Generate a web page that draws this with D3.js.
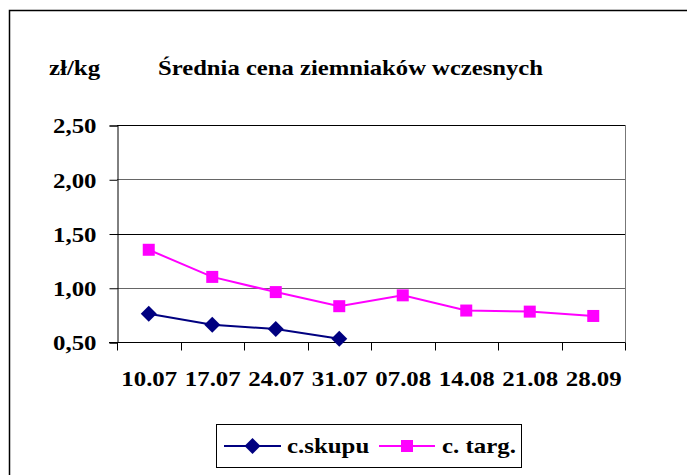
<!DOCTYPE html>
<html>
<head>
<meta charset="utf-8">
<script src="https://cdn.jsdelivr.net/npm/d3@7"></script>
</head>
<body style="margin:0; background:#fff">
<svg id="chart" width="687" height="475" font-family="Liberation Serif" font-weight="bold"></svg>
<script>
    // data
    var dates = ["10.07", "17.07", "24.07", "31.07", "07.08", "14.08", "21.08", "28.09"];
    var skupu = [0.76, 0.66, 0.62, 0.53];
    var targ = [1.35, 1.10, 0.96, 0.83, 0.93, 0.79, 0.78, 0.74];
    var yTicks = [0.5, 1.0, 1.5, 2.0, 2.5];

    var FONT = 'Liberation Serif';
    var STRETCH = 1.13;

    var svg = d3.select('#chart');

    // outer frame
    svg.append('rect')
        .attr('x', 9.5).attr('y', 10.5)
        .attr('width', 700).attr('height', 500)
        .attr('fill', '#fff')
        .attr('stroke', '#000')
        .attr('stroke-width', 1.5);

    var plot = { left: 117, right: 625, top: 125, bottom: 342 };

    var x = d3.scaleBand()
        .domain(dates)
        .range([plot.left, plot.right]);

    var y = d3.scaleLinear()
        .domain([0.5, 2.5])
        .range([plot.bottom, plot.top]);

    var fmt = function(d) {
        return d3.format('.2f')(d).replace('.', ',');
    };

    // gridlines
    svg.append('g')
        .selectAll('line')
        .data(yTicks)
        .enter().append('line')
        .attr('x1', plot.left).attr('x2', plot.right)
        .attr('y1', function(d) { return Math.round(y(d)) + 0.5; })
        .attr('y2', function(d) { return Math.round(y(d)) + 0.5; })
        .attr('stroke', function(d, i) { return i % 2 === 1 ? '#666' : '#000'; })
        .attr('stroke-width', 1);

    // right border of plot area
    svg.append('line')
        .attr('x1', plot.right + 0.5).attr('x2', plot.right + 0.5)
        .attr('y1', plot.top).attr('y2', plot.bottom + 8)
        .attr('stroke', '#777');

    // y axis
    var yAxis = svg.append('g')
        .attr('transform', 'translate(' + (plot.left + 0.5) + ',0.5)')
        .call(d3.axisLeft(y).tickValues(yTicks).tickFormat(fmt).tickSize(8).tickPadding(13));
    yAxis.attr('font-family', FONT).attr('font-size', 22);
    yAxis.select('.domain').attr('stroke', '#000');
    yAxis.selectAll('text')
        .attr('fill', '#000')
        .attr('dy', '0.34em');

    // x axis
    var xAxis = svg.append('g')
        .attr('transform', 'translate(0.5,' + (plot.bottom + 0.5) + ')')
        .call(d3.axisBottom(x).tickSize(0).tickPadding(0));
    xAxis.attr('font-family', FONT).attr('font-size', 22);
    xAxis.select('.domain').remove();
    xAxis.selectAll('text')
        .attr('fill', '#000')
        .attr('y', 43)
        .attr('dy', 0);

    var edges = dates.map(function(d) { return x(d); }).concat([plot.right]);
    xAxis.selectAll('.edge')
        .data(edges)
        .enter().append('line')
        .attr('class', 'edge')
        .attr('x1', function(d) { return Math.round(d); })
        .attr('x2', function(d) { return Math.round(d); })
        .attr('y1', 0).attr('y2', 8)
        .attr('stroke', '#000');
    svg.append('line')
        .attr('x1', plot.left - 8).attr('x2', plot.right)
        .attr('y1', plot.bottom + 0.5).attr('y2', plot.bottom + 0.5)
        .attr('stroke', '#000');

    // titles
    svg.append('text')
        .attr('class', 'stretch')
        .attr('x', 49).attr('y', 75)
        .attr('font-size', 22)
        .text('zł/kg');
    svg.append('text')
        .attr('x', 158).attr('y', 75)
        .attr('font-size', 22)
        .attr('textLength', 385)
        .attr('lengthAdjust', 'spacingAndGlyphs')
        .text('Średnia cena ziemniaków wczesnych');

    var cx = function(d, i) { return x(dates[i]) + x.bandwidth() / 2; };
    var line = d3.line()
        .x(function(d, i) { return cx(d, i); })
        .y(function(d) { return y(d); });

    // c. targ.
    svg.append('path')
        .datum(targ)
        .attr('d', line)
        .attr('fill', 'none')
        .attr('stroke', '#ff00ff')
        .attr('stroke-width', 2);
    svg.append('g')
        .selectAll('rect')
        .data(targ)
        .enter().append('rect')
        .attr('x', function(d, i) { return cx(d, i) - 6; })
        .attr('y', function(d) { return y(d) - 6; })
        .attr('width', 12).attr('height', 12)
        .attr('fill', '#ff00ff');

    // c.skupu
    svg.append('path')
        .datum(skupu)
        .attr('d', line)
        .attr('fill', 'none')
        .attr('stroke', '#000080')
        .attr('stroke-width', 2);
    var diamond = d3.symbol().type(d3.symbolSquare).size(128);
    svg.append('g')
        .selectAll('path')
        .data(skupu)
        .enter().append('path')
        .attr('d', diamond)
        .attr('transform', function(d, i) {
            return 'translate(' + cx(d, i) + ',' + y(d) + ') rotate(45)';
        })
        .attr('fill', '#000080');

    // legend
    var legend = svg.append('g');
    legend.append('rect')
        .attr('x', 216.5).attr('y', 424.5)
        .attr('width', 305).attr('height', 43)
        .attr('fill', '#fff')
        .attr('stroke', '#000');

    legend.append('line')
        .attr('x1', 224).attr('x2', 281).attr('y1', 446).attr('y2', 446)
        .attr('stroke', '#000080').attr('stroke-width', 2);
    legend.append('path')
        .attr('d', diamond)
        .attr('transform', 'translate(252.5,446) rotate(45)')
        .attr('fill', '#000080');
    legend.append('text')
        .attr('class', 'stretch')
        .attr('x', 287).attr('y', 453)
        .attr('font-size', 22)
        .text('c.skupu');

    legend.append('line')
        .attr('x1', 379).attr('x2', 435).attr('y1', 446).attr('y2', 446)
        .attr('stroke', '#ff00ff').attr('stroke-width', 2);
    legend.append('rect')
        .attr('x', 401).attr('y', 440)
        .attr('width', 12).attr('height', 12)
        .attr('fill', '#ff00ff');
    legend.append('text')
        .attr('class', 'stretch')
        .attr('x', 442).attr('y', 453)
        .attr('font-size', 22)
        .text('c. targ.');

    // the original glyphs are a little wider than Liberation Serif
    svg.selectAll('.tick text, text.stretch').each(function() {
        var len = this.getComputedTextLength();
        d3.select(this)
            .attr('textLength', len * STRETCH)
            .attr('lengthAdjust', 'spacingAndGlyphs');
    });
</script>
</body>
</html>
